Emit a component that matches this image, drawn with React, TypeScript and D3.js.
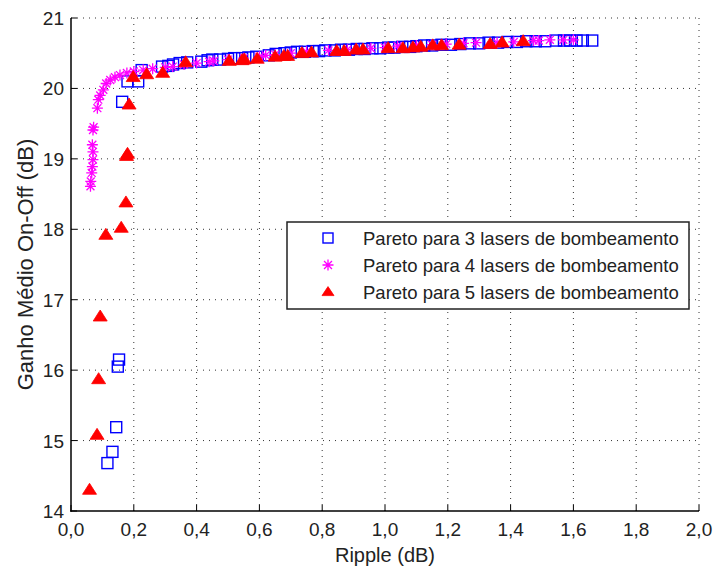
import React from "react";
import * as d3 from "d3";

// Pareto fronts: [ripple (dB), mean on-off gain (dB)]
const pareto3: [number, number][] = [
  [0.116, 14.68], [0.132, 14.84], [0.144, 15.19], [0.149, 16.05], [0.153, 16.15],
  [0.163, 19.81], [0.18, 20.1], [0.214, 20.1], [0.225, 20.26], [0.29, 20.31],
  [0.31, 20.32], [0.325, 20.34], [0.346, 20.36], [0.37, 20.37], [0.415, 20.38],
  [0.435, 20.4], [0.45, 20.41], [0.475, 20.41], [0.5, 20.42], [0.52, 20.43],
  [0.545, 20.43], [0.565, 20.44], [0.59, 20.45], [0.63, 20.47], [0.652, 20.49],
  [0.68, 20.5], [0.7, 20.51], [0.72, 20.52], [0.745, 20.52], [0.77, 20.53],
  [0.79, 20.53], [0.81, 20.54], [0.84, 20.54], [0.86, 20.55], [0.885, 20.55],
  [0.91, 20.56], [0.935, 20.56], [0.96, 20.57], [0.985, 20.57], [1.01, 20.58],
  [1.03, 20.58], [1.055, 20.59], [1.08, 20.59], [1.1, 20.6], [1.125, 20.61],
  [1.15, 20.61], [1.18, 20.62], [1.21, 20.62], [1.24, 20.63], [1.27, 20.64],
  [1.3, 20.64], [1.33, 20.65], [1.36, 20.65], [1.39, 20.66], [1.42, 20.66],
  [1.45, 20.67], [1.48, 20.67], [1.51, 20.67], [1.545, 20.68], [1.57, 20.68],
  [1.59, 20.68], [1.61, 20.68], [1.63, 20.68], [1.66, 20.68],
];

const pareto4: [number, number][] = [
  [0.062, 18.61], [0.063, 18.68], [0.066, 18.8], [0.068, 18.89], [0.07, 18.99],
  [0.07, 19.1], [0.068, 19.2], [0.07, 19.41], [0.072, 19.45], [0.084, 19.72],
  [0.087, 19.84], [0.093, 19.9], [0.103, 19.98], [0.112, 20.07], [0.125, 20.12],
  [0.14, 20.16], [0.156, 20.19], [0.178, 20.22], [0.2, 20.24], [0.23, 20.26],
  [0.26, 20.28], [0.3, 20.3], [0.324, 20.31], [0.36, 20.34], [0.4, 20.36],
  [0.44, 20.38], [0.455, 20.39], [0.5, 20.41], [0.55, 20.43], [0.6, 20.45],
  [0.62, 20.47], [0.65, 20.48], [0.7, 20.5], [0.75, 20.52], [0.82, 20.54],
  [0.88, 20.55], [0.955, 20.57], [1.0, 20.58], [1.04, 20.6], [1.1, 20.61],
  [1.15, 20.62], [1.195, 20.63], [1.25, 20.64], [1.29, 20.65], [1.357, 20.65],
  [1.41, 20.66], [1.473, 20.68], [1.49, 20.68], [1.525, 20.69], [1.568, 20.69],
  [1.6, 20.69],
];

const pareto5: [number, number][] = [
  [0.059, 14.3], [0.083, 15.08], [0.088, 15.87], [0.093, 16.76], [0.111, 17.92],
  [0.16, 18.02], [0.175, 18.38], [0.177, 19.04], [0.18, 19.07], [0.185, 19.77],
  [0.198, 20.16], [0.241, 20.2], [0.292, 20.22], [0.365, 20.37], [0.504, 20.39],
  [0.545, 20.4], [0.552, 20.41], [0.593, 20.42], [0.65, 20.45], [0.678, 20.46],
  [0.69, 20.46], [0.735, 20.5], [0.766, 20.51], [0.846, 20.53], [0.87, 20.53],
  [0.908, 20.55], [0.93, 20.55], [1.01, 20.57], [1.057, 20.57], [1.089, 20.58],
  [1.114, 20.59], [1.152, 20.61], [1.18, 20.61], [1.236, 20.62], [1.335, 20.63],
  [1.373, 20.65], [1.44, 20.67],
];

const xTicks = [0, 0.2, 0.4, 0.6, 0.8, 1.0, 1.2, 1.4, 1.6, 1.8, 2.0];
const yTicks = [14, 15, 16, 17, 18, 19, 20, 21];
const legendLabels = [
  "Pareto para 3 lasers de bombeamento",
  "Pareto para 4 lasers de bombeamento",
  "Pareto para 5 lasers de bombeamento",
];

const W = 713;
const H = 569;
const FONT = "'Liberation Sans', Arial, sans-serif";

const x = d3.scaleLinear().domain([0, 2]).range([71, 699]);
const y = d3.scaleLinear().domain([14, 21]).range([511, 18]);

const fmt = (v: number) => v.toFixed(1).replace(".", ",");

function Square({ cx, cy, s = 11 }: { cx: number; cy: number; s?: number }) {
  return (
    <rect x={cx - s / 2} y={cy - s / 2} width={s} height={s}
      fill="none" stroke="#0000ff" strokeWidth={1.4} />
  );
}

function Star({ cx, cy, r = 5.5 }: { cx: number; cy: number; r?: number }) {
  const d = r * 0.72;
  return (
    <path
      d={`M${cx - r},${cy}H${cx + r}M${cx},${cy - r}V${cy + r}M${cx - d},${cy - d}L${cx + d},${cy + d}M${cx - d},${cy + d}L${cx + d},${cy - d}`}
      stroke="#ff00ff" strokeWidth={1.3} fill="none" />
  );
}

function Tri({ cx, cy, w = 14, h = 11 }: { cx: number; cy: number; w?: number; h?: number }) {
  return (
    <path d={`M${cx},${cy - h * 0.6}L${cx + w / 2},${cy + h * 0.4}L${cx - w / 2},${cy + h * 0.4}Z`}
      fill="#ff0000" stroke="#ff0000" strokeWidth={0.8} />
  );
}

export default function App() {
  const [x0, x1] = x.range();
  const [y0, y1] = y.range();
  const lx = 287, ly = 222, lw = 402, lh = 87;
  return (
    <svg width={W} height={H} style={{ position: "absolute", left: 0, top: 0, background: "#fff" }}
      fontFamily={FONT}>
      {/* grid */}
      <g stroke="#333" strokeWidth={1} strokeDasharray="1,5">
        {xTicks.slice(1).map((t) => (
          <line key={`gx${t}`} x1={x(t)} x2={x(t)} y1={y0} y2={y1} />
        ))}
        {yTicks.slice(1).map((t) => (
          <line key={`gy${t}`} x1={x0} x2={x1} y1={y(t)} y2={y(t)} />
        ))}
      </g>
      {/* axes */}
      <g stroke="#000" strokeWidth={1.5}>
        <line x1={x0} x2={x0} y1={y1} y2={y0 + 0.75} />
        <line x1={x0 - 0.75} x2={x1} y1={y0} y2={y0} />
        {xTicks.map((t) => (
          <line key={`tx${t}`} x1={x(t)} x2={x(t)} y1={y0} y2={y0 - 6} strokeWidth={1} />
        ))}
        {yTicks.map((t) => (
          <line key={`ty${t}`} x1={x0} x2={x0 + 6} y1={y(t)} y2={y(t)} strokeWidth={1} />
        ))}
      </g>
      <g fontSize={19} fill="#222">
        {xTicks.map((t) => (
          <text key={`lx${t}`} x={x(t)} y={536} textAnchor="middle">{fmt(t)}</text>
        ))}
        {yTicks.map((t) => (
          <text key={`ly${t}`} x={64} y={y(t) + 7} textAnchor="end">{t}</text>
        ))}
        <text x={(x0 + x1) / 2} y={562} fontSize={20} textAnchor="middle">Ripple (dB)</text>
        <text transform={`translate(33,${(y0 + y1) / 2}) rotate(-90)`} fontSize={22}
          textAnchor="middle">
          Ganho Médio On-Off (dB)
        </text>
      </g>
      {/* data */}
      <g>
        {pareto3.map(([a, b], i) => <Square key={`s${i}`} cx={x(a)} cy={y(b)} />)}
      </g>
      <g>
        {pareto4.map(([a, b], i) => <Star key={`p${i}`} cx={x(a)} cy={y(b)} />)}
      </g>
      <g>
        {pareto5.map(([a, b], i) => <Tri key={`t${i}`} cx={x(a)} cy={y(b)} />)}
      </g>
      {/* legend */}
      <rect x={lx} y={ly} width={lw} height={lh} fill="#fff" stroke="#222" strokeWidth={1.5} />
      {legendLabels.map((lab, i) => {
        const cy = ly + 16 + i * 27;
        return (
          <g key={lab}>
            {i === 0 && <Square cx={328} cy={cy} s={10} />}
            {i === 1 && <Star cx={328} cy={cy} />}
            {i === 2 && <Tri cx={328} cy={cy} w={12} h={9} />}
            <text x={363} y={cy + 6.5} fontSize={18.5} fill="#222">{lab}</text>
          </g>
        );
      })}
    </svg>
  );
}
